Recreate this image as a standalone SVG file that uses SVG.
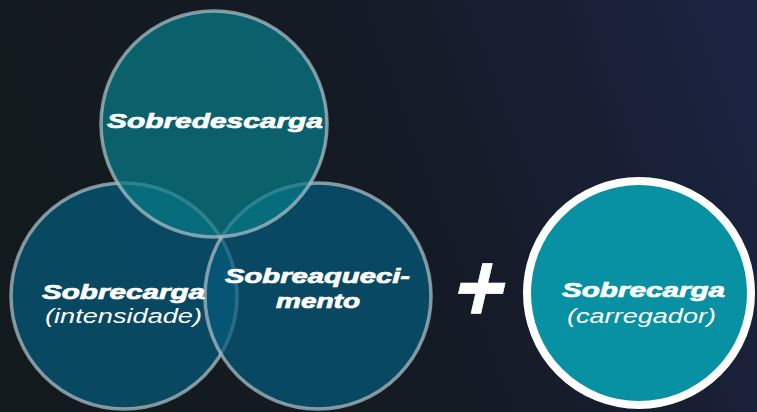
<svg xmlns="http://www.w3.org/2000/svg" width="757" height="412" viewBox="0 0 757 412">
  <defs>
    <linearGradient id="bg" x1="0" y1="0.5" x2="1" y2="0.3">
      <stop offset="0" stop-color="#131a1d"/>
      <stop offset="0.55" stop-color="#151b26"/>
      <stop offset="1" stop-color="#1b2340"/>
    </linearGradient>
    <style>
      .venn { stroke: #a9bcc4; stroke-opacity: 0.75; stroke-width: 3.5; }
      .low { fill: #065a7c; fill-opacity: 0.72; }
      .top { fill: #077b88; fill-opacity: 0.72; }
      .b { font-family: "Liberation Sans", Arial, sans-serif; font-weight: bold; font-style: italic; fill: #ffffff; stroke: #ffffff; stroke-width: 0.7; }
      .r { font-family: "Liberation Sans", Arial, sans-serif; font-weight: normal; font-style: italic; fill: #ffffff; }
    </style>
  </defs>
  <rect width="757" height="412" fill="url(#bg)"/>

  <g id="node-sobrecarga-intensidade">
    <circle class="venn low" cx="124" cy="296" r="113"/>
  </g>
  <g id="node-sobreaquecimento">
    <circle class="venn low" cx="318" cy="296" r="113"/>
  </g>
  <g id="node-sobredescarga">
    <circle class="venn top" cx="214" cy="124" r="113"/>
  </g>

  <g id="labels">
    <text class="b" x="107" y="128" font-size="21" textLength="216" lengthAdjust="spacingAndGlyphs">Sobredescarga</text>
    <text class="b" x="42" y="299" font-size="20" textLength="163" lengthAdjust="spacingAndGlyphs">Sobrecarga</text>
    <text class="r" x="45" y="323" font-size="20" textLength="157" lengthAdjust="spacingAndGlyphs">(intensidade)</text>
    <text class="b" x="225" y="283" font-size="20" textLength="185" lengthAdjust="spacingAndGlyphs">Sobreaqueci-</text>
    <text class="b" x="276" y="308" font-size="20" textLength="84" lengthAdjust="spacingAndGlyphs">mento</text>
  </g>

  <g id="plus" transform="translate(480,288) skewX(-13) scale(0.9,1) translate(-480,-288)">
    <text class="b" x="480" y="321" font-size="98" text-anchor="middle" stroke-width="4.5" stroke-linejoin="miter">+</text>
  </g>

  <g id="node-sobrecarga-carregador">
    <circle cx="639" cy="293" r="112" fill="#0890a3" stroke="#ffffff" stroke-width="8"/>
    <text class="b" x="562" y="297" font-size="20" textLength="163" lengthAdjust="spacingAndGlyphs">Sobrecarga</text>
    <text class="r" x="567" y="323" font-size="20" textLength="149" lengthAdjust="spacingAndGlyphs">(carregador)</text>
  </g>

  <g id="connectors"></g>
</svg>
